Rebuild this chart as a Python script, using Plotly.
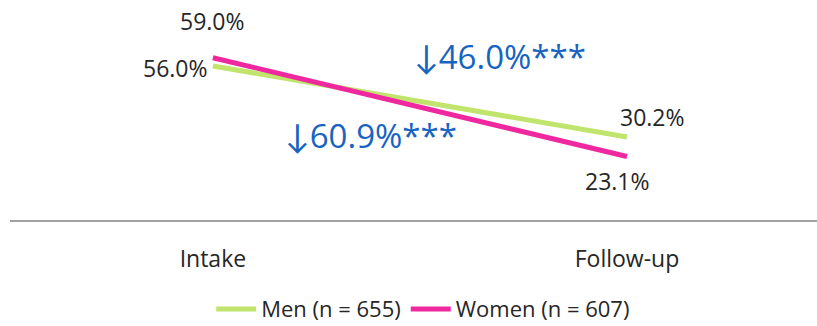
import plotly.graph_objects as go

categories = ["Intake", "Follow-up"]
x_pos = [0, 1]
men = [56.0, 30.2]
women = [59.0, 23.1]
men_name = "Men (n = 655)"
women_name = "Women (n = 607)"
men_change = "46.0%***"
women_change = "60.9%***"
ARROW = "↓"

GREEN = "#c1e56c"
MAGENTA = "#ef28a0"
BLUE = "#1763c2"
TEXT = "#262626"
FONT = "Open Sans"

fig = go.Figure()
fig.add_trace(go.Scatter(x=x_pos, y=men, mode="lines", name=men_name,
                         line=dict(color=GREEN, width=5)))
fig.add_trace(go.Scatter(x=x_pos, y=women, mode="lines", name=women_name,
                         line=dict(color=MAGENTA, width=5)))

ann = []
def lab(x, y, dx, dy):
    ann.append(dict(x=x, y=y, xref="x", yref="y", text=f"{y:.1f}%", showarrow=False,
                    xshift=dx, yshift=dy, font=dict(size=23, color=TEXT, family=FONT)))
lab(x_pos[0], women[0], 0, 37)
lab(x_pos[0], men[0], -37, -2)
lab(x_pos[1], men[1], 26, 20)
lab(x_pos[1], women[1], -9, -25)

def arrow_text(t):
    return f'<span style="font-family:Lato">{ARROW}</span>{t}'

ann.append(dict(x=0.693, y=59.3, xref="x", yref="y", text=arrow_text(men_change), showarrow=False,
                font=dict(size=33, color=BLUE, family=FONT)))
ann.append(dict(x=0.382, y=30.9, xref="x", yref="y", text=arrow_text(women_change), showarrow=False,
                font=dict(size=33, color=BLUE, family=FONT)))

fig.update_layout(
    width=817, height=326,
    margin=dict(l=10, r=0, t=0, b=106, autoexpand=False),
    paper_bgcolor="white", plot_bgcolor="white",
    font=dict(family=FONT, color=TEXT, size=23),
    annotations=ann,
    xaxis=dict(range=[-0.490, 1.459], tickvals=x_pos, ticktext=categories,
               showgrid=False, zeroline=False, showline=True, linecolor="#a0a0a0",
               linewidth=2, ticks="", ticklabelstandoff=17, automargin=False,
               tickfont=dict(size=23, color=TEXT, family=FONT)),
    yaxis=dict(range=[0, 80], visible=False, showgrid=False, zeroline=False),
    showlegend=True,
    legend=dict(orientation="h", x=0.512, xanchor="center", y=-0.405, yanchor="middle",
                font=dict(size=22, color=TEXT, family=FONT), itemwidth=40,
                bgcolor="rgba(0,0,0,0)"),
)

fig.write_html("out.html")
